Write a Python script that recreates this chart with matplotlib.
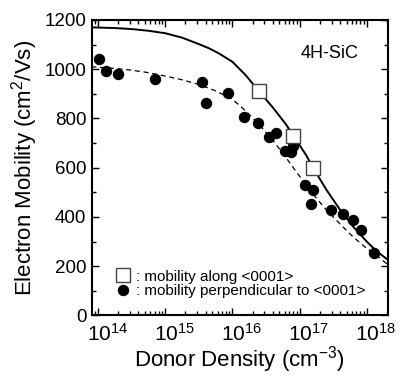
import numpy as np
import matplotlib
matplotlib.use('Agg')
import matplotlib.pyplot as plt
from matplotlib.ticker import LogLocator, MultipleLocator
from matplotlib.transforms import ScaledTranslation

plt.rcParams['font.family'] = ['Liberation Sans', 'DejaVu Sans']
plt.rcParams['mathtext.fontset'] = 'custom'
plt.rcParams['mathtext.rm'] = 'Liberation Sans'
plt.rcParams['mathtext.it'] = 'Liberation Sans:italic'
plt.rcParams['mathtext.bf'] = 'Liberation Sans:bold'

# mobility along <0001> (open squares)
along_N = [2.45e16, 8.1e16, 1.6e17]
along_mu = [912, 729, 597]

# mobility perpendicular to <0001> (filled circles)
perp_N = [1.02e14, 1.3e14, 2.0e14, 7.1e14, 3.5e15, 4.0e15, 8.5e15, 1.5e16,
          2.4e16, 3.5e16, 4.5e16, 6.0e16, 7.4e16, 7.9e16, 1.2e17, 1.58e17,
          1.5e17, 2.95e17, 4.5e17, 6.3e17, 8.3e17, 1.3e18]
perp_mu = [1040, 994, 981, 960, 949, 861, 902, 807,
           780, 725, 739, 668, 664, 690, 529, 511,
           454, 430, 410, 389, 349, 255]

# fitted curves (exponent of N, mobility)
solid_logN = [13.9, 14.0, 14.25, 14.5, 14.75, 15.0, 15.25, 15.5, 15.65, 15.8,
              16.0, 16.2, 16.39, 16.6, 16.8, 16.91, 17.1, 17.2, 17.4, 17.6,
              17.8, 18.0, 18.15, 18.32]
solid_mu = [1170, 1169, 1167, 1163, 1156, 1146, 1128, 1102, 1085, 1064,
            1030, 975, 912, 845, 775, 729, 650, 600, 510, 430,
            360, 300, 260, 225]

dash_logN = [13.9, 14.25, 14.5, 14.75, 15.0, 15.25, 15.5, 15.75, 16.0, 16.2,
             16.4, 16.6, 16.8, 17.0, 17.2, 17.4, 17.6, 17.8, 18.0, 18.15, 18.32]
dash_mu = [1010, 1003, 996, 986, 972, 957, 938, 912, 878, 830,
           775, 712, 640, 565, 493, 428, 372, 318, 272, 243, 205]

# x tick decades
decades = [14, 15, 16, 17, 18]

fig = plt.figure(figsize=(4.0, 3.76), dpi=100)
ax = fig.add_axes([0.23, 0.161, 0.739, 0.786])

ax.plot(10 ** np.array(solid_logN), solid_mu, '-', color='black', lw=1.4, zorder=2)
ax.plot(10 ** np.array(dash_logN), dash_mu, '--', color='black', lw=0.9,
        dashes=(4, 3), zorder=2)

circ, = ax.plot(perp_N, perp_mu, 'o', color='black', ms=7.2, mec='black', zorder=3,
                linestyle='none')
sq, = ax.plot(along_N, along_mu, 's', mfc='white', mec='#444444', mew=1.0, ms=9.5,
              zorder=4, linestyle='none')

ax.set_xscale('log')
ax.set_xlim(10 ** 13.91, 10 ** 18.31)
ax.set_ylim(0, 1200)

ax.set_xticks([10.0 ** d for d in decades])
labels = ax.set_xticklabels(['10$^{%d}$' % d for d in decades], ha='left')
ax.xaxis.set_minor_locator(LogLocator(base=10, subs=np.arange(2, 10), numticks=10))
ax.yaxis.set_major_locator(MultipleLocator(200))
ax.yaxis.set_minor_locator(MultipleLocator(100))

ax.tick_params(which='both', direction='in', top=True, right=True, width=1.0)
ax.tick_params(which='major', length=5, pad=4.5)
ax.tick_params(which='minor', length=2.8)
ax.tick_params(axis='x', which='major', labelsize=15, pad=5.5)
ax.tick_params(axis='y', which='major', labelsize=13.5, pad=4)
for s in ax.spines.values():
    s.set_linewidth(1.5)

# keep "10" centred under the tick, exponent hanging to the right
shift = ScaledTranslation(-8.3 / 72, 0, fig.dpi_scale_trans)
for lab in labels:
    lab.set_transform(lab.get_transform() + shift)

ax.set_xlabel('Donor Density (cm$^{-3}$)', fontsize=16, labelpad=-1)
ax.set_ylabel('Electron Mobility (cm$^{2}$/Vs)', fontsize=16, labelpad=3)

ax.text(0.903, 0.885, '4H-SiC', transform=ax.transAxes, ha='right', va='center',
        fontsize=13)

ax.legend([sq, circ], [': mobility along <0001>', ': mobility perpendicular to <0001>'],
          loc='lower left', bbox_to_anchor=(0.08, 0.058), frameon=False, fontsize=11,
          handletextpad=0.35, handlelength=1.0, labelspacing=0.05, borderpad=0,
          borderaxespad=0)

fig.savefig('out.png', dpi=100)
